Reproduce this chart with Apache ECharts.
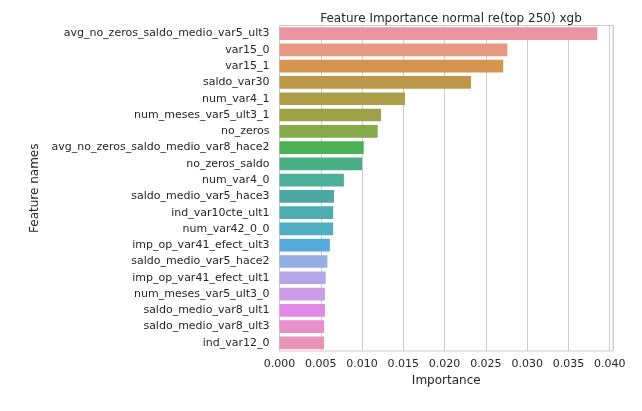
<!DOCTYPE html>
<html>
<head>
<meta charset="utf-8">
<style>
html,body{margin:0;padding:0;background:#fff}
#chart{width:642px;height:411px}
</style>
<script src="https://cdn.jsdelivr.net/npm/echarts@6/dist/echarts.min.js"></script>
</head>
<body>
<div id="chart"></div>
<script>
var featureNames = ["avg_no_zeros_saldo_medio_var5_ult3","var15_0","var15_1","saldo_var30","num_var4_1",
    "num_meses_var5_ult3_1","no_zeros","avg_no_zeros_saldo_medio_var8_hace2","no_zeros_saldo","num_var4_0",
    "saldo_medio_var5_hace3","ind_var10cte_ult1","num_var42_0_0","imp_op_var41_efect_ult3","saldo_medio_var5_hace2",
    "imp_op_var41_efect_ult1","num_meses_var5_ult3_0","saldo_medio_var8_ult1","saldo_medio_var8_ult3","ind_var12_0"];
var importance = [0.0385,0.0276,0.0271,0.0232,0.0152,0.0123,0.0119,0.0102,0.0100,0.0078,
    0.0066,0.0065,0.0065,0.0061,0.0058,0.0056,0.0055,0.0055,0.0054,0.0054];
var barColors = ["#EB95A3","#E89781","#D5944F","#BC9849","#AC9F47","#9CA247","#84AA49","#4DB153","#4AAF85","#4CAF98",
    "#4BA8A2","#4DACB0","#50AFC4","#56ABDC","#93ADE5","#B5A6E8","#CE9CE6","#E388E4","#E88FCC","#E894B6"];

var font = "DejaVu Sans";
var textColor = "#262626";
var myChart = echarts.init(document.getElementById("chart"), null, {renderer: "canvas"});
var option = {
    animation: false,
    backgroundColor: "#fff",
    title: {
        text: "Feature Importance normal re(top 250) xgb",
        left: 446,
        top: 8,
        textAlign: "center",
        textStyle: {fontFamily: font, fontSize: 12, fontWeight: "normal", color: textColor}
    },
    grid: {
        left: 279.5,
        top: 25.5,
        width: 333.5,
        height: 325.5,
        show: true,
        borderColor: "#cccccc",
        borderWidth: 1
    },
    xAxis: {
        type: "value",
        min: 0,
        max: 0.0404,
        interval: 0.005,
        name: "Importance",
        nameLocation: "middle",
        nameGap: 24,
        nameTextStyle: {fontFamily: font, fontSize: 12, color: textColor},
        axisLine: {show: false},
        axisTick: {show: false},
        axisLabel: {
            fontFamily: font,
            fontSize: 11,
            color: textColor,
            margin: 8,
            showMaxLabel: false,
            formatter: function (v) {
                return v.toFixed(3);
            }
        },
        splitLine: {show: true, lineStyle: {color: "#cccccc", width: 1}}
    },
    yAxis: {
        type: "category",
        inverse: true,
        data: featureNames,
        name: "Feature names",
        nameLocation: "middle",
        nameGap: 235,
        nameTextStyle: {fontFamily: font, fontSize: 12, color: textColor},
        axisLine: {show: false},
        axisTick: {show: false},
        axisLabel: {fontFamily: font, fontSize: 11, color: textColor, margin: 10, interval: 0},
        splitLine: {show: false}
    },
    series: [{
        type: "bar",
        barWidth: "78%",
        data: importance.map(function (v, i) {
            return {value: v, itemStyle: {color: barColors[i]}};
        })
    }]
};
myChart.setOption(option);
</script>
</body>
</html>
